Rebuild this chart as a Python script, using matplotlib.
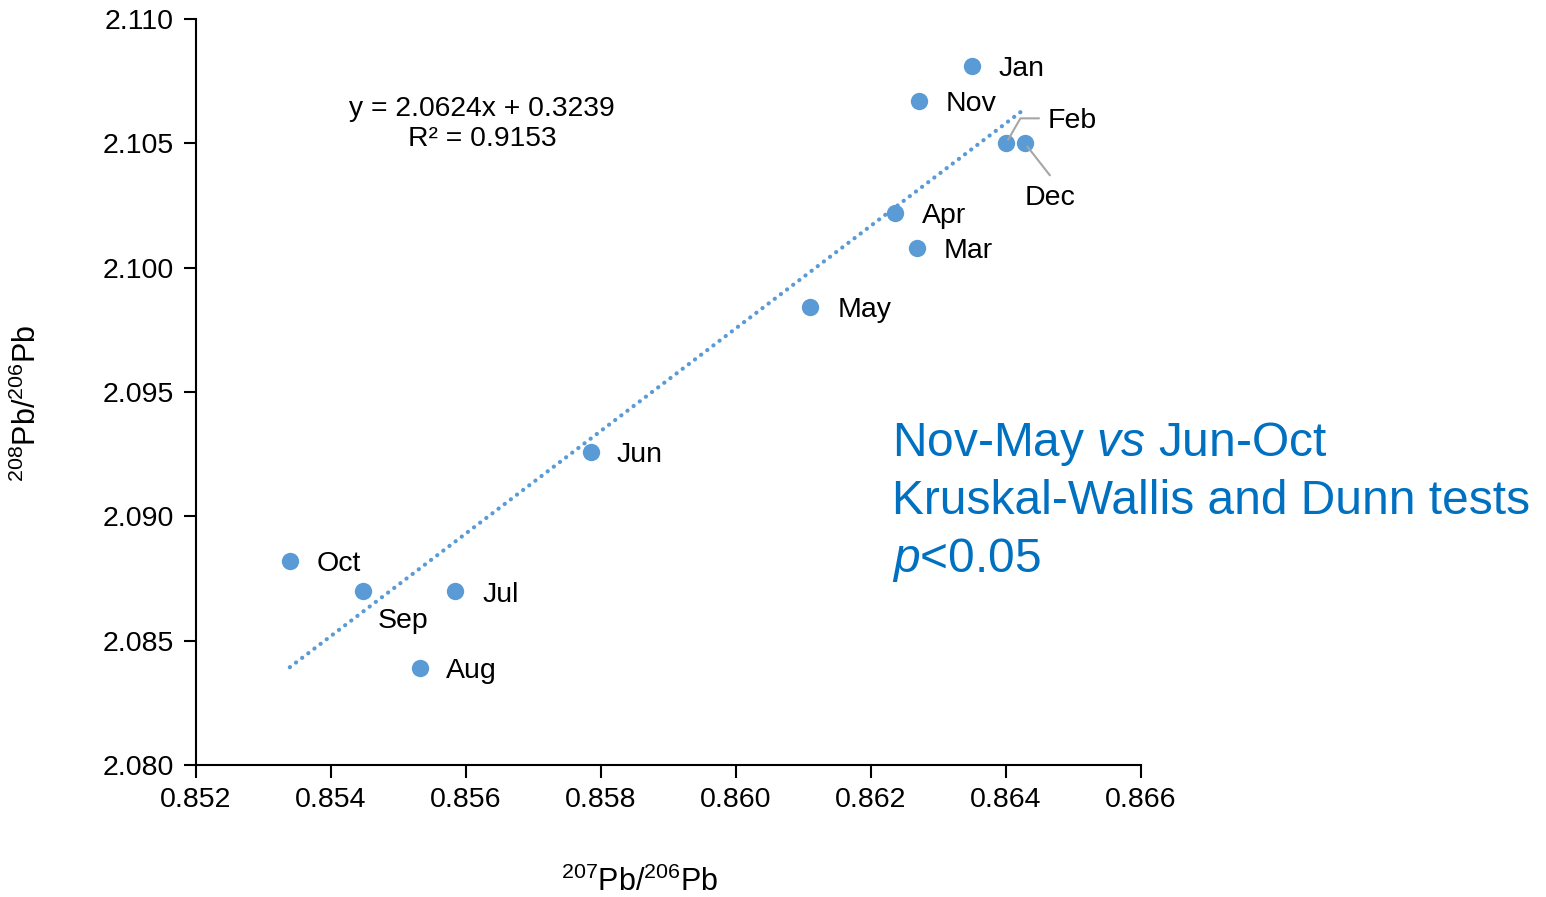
import matplotlib
matplotlib.use("Agg")
import matplotlib.pyplot as plt
import numpy as np

plt.rcParams['font.family'] = ['Liberation Sans', 'DejaVu Sans']
plt.rcParams['mathtext.fontset'] = 'custom'
plt.rcParams['mathtext.rm'] = 'Liberation Sans'
plt.rcParams['mathtext.it'] = 'Liberation Sans:italic'

# monthly isotope ratios
months = ['Jan', 'Feb', 'Mar', 'Apr', 'May', 'Jun',
          'Jul', 'Aug', 'Sep', 'Oct', 'Nov', 'Dec']
pb207_206 = [0.86350, 0.86400, 0.86268, 0.86236, 0.86110, 0.85785,
             0.85584, 0.85532, 0.85447, 0.85339, 0.86271, 0.86428]
pb208_206 = [2.1081, 2.1050, 2.1008, 2.1022, 2.0984, 2.0926,
             2.0870, 2.0839, 2.0870, 2.0882, 2.1067, 2.1050]

# linear fit reported on the chart
slope, intercept, r2 = 2.0624, 0.3239, 0.9153

# label offsets in pixels (dx, dy, ha)
label_pos = {
    'Jan': (26, -3, 'left'), 'Feb': (42, 22, 'left'), 'Mar': (27, -3, 'left'),
    'Apr': (27, -3, 'left'), 'May': (27, -3, 'left'), 'Jun': (26, -3, 'left'),
    'Jul': (27, -4, 'left'), 'Aug': (26, -3, 'left'), 'Sep': (15, -30, 'left'),
    'Oct': (27, -3, 'left'), 'Nov': (27, -3, 'left'), 'Dec': (25, -55, 'center'),
}

blue = '#5B9BD5'

fig = plt.figure(figsize=(15.46, 8.97), dpi=100)
ax = fig.add_axes([196 / 1546, 132 / 897, 945 / 1546, 746 / 897])

# trend line
xs = np.array([min(pb207_206), max(pb207_206)])
ax.plot(xs, slope * xs + intercept, linestyle=(0, (0.05, 1.8)), color=blue,
        lw=3.0, dash_capstyle='round', zorder=2)

ax.plot(pb207_206, pb208_206, 'o', color=blue, markersize=12.5,
        markeredgewidth=0, zorder=3)

for m, x, y in zip(months, pb207_206, pb208_206):
    dx, dy, ha = label_pos[m]
    ax.annotate(m, (x, y), xytext=(dx, dy), textcoords='offset pixels',
                ha=ha, va='center', fontsize=20.5, color='black', zorder=4)

# leader lines for the overlapping Feb / Dec points
ax.annotate('', (pb207_206[1], pb208_206[1]), xytext=(33, 25),
            textcoords='offset pixels',
            arrowprops=dict(arrowstyle='-', color='#A6A6A6', lw=1.5,
                            shrinkA=0, shrinkB=3,
                            connectionstyle='angle,angleA=0,angleB=60,rad=0'))
ax.annotate('', (pb207_206[11], pb208_206[11]), xytext=(25, -32),
            textcoords='offset pixels',
            arrowprops=dict(arrowstyle='-', color='#A6A6A6', lw=1.5,
                            shrinkA=0, shrinkB=3))

ax.set_xlim(0.852, 0.866)
ax.set_ylim(2.080, 2.110)
ax.set_xticks(np.arange(0.852, 0.8661, 0.002))
ax.set_yticks(np.arange(2.080, 2.1101, 0.005))
ax.xaxis.set_major_formatter(plt.FormatStrFormatter('%.3f'))
ax.yaxis.set_major_formatter(plt.FormatStrFormatter('%.3f'))
ax.tick_params(axis='both', direction='out', length=9, width=1.5,
               labelsize=20.5, pad=7, colors='black')
for s in ['top', 'right']:
    ax.spines[s].set_visible(False)
for s in ['left', 'bottom']:
    ax.spines[s].set_linewidth(1.5)

fig.text(640 / 1546, 1 - 882 / 897, r'$^{207}$Pb/$^{206}$Pb',
         ha='center', va='center', fontsize=22)
fig.text(27 / 1546, 1 - 403 / 897, r'$^{208}$Pb/$^{206}$Pb',
         ha='center', va='center', rotation=90, fontsize=22)

fig.text(482 / 1546, 1 - 124 / 897,
         'y = %.4fx + %.4f\nR² = %.4f' % (slope, intercept, r2),
         ha='center', va='center', fontsize=20.3, linespacing=1.15)

tc = '#0070C0'
fig.text(892 / 1546, 1 - 456 / 897, r'Nov-May $\mathit{vs}$ Jun-Oct',
         ha='left', va='baseline', fontsize=34.5, color=tc)
fig.text(892 / 1546, 1 - 514 / 897, 'Kruskal-Wallis and Dunn tests',
         ha='left', va='baseline', fontsize=34.5, color=tc)
fig.text(892 / 1546, 1 - 572 / 897, r'$\mathit{p}$<0.05',
         ha='left', va='baseline', fontsize=34.5, color=tc)

fig.savefig('out.png', dpi=100)
